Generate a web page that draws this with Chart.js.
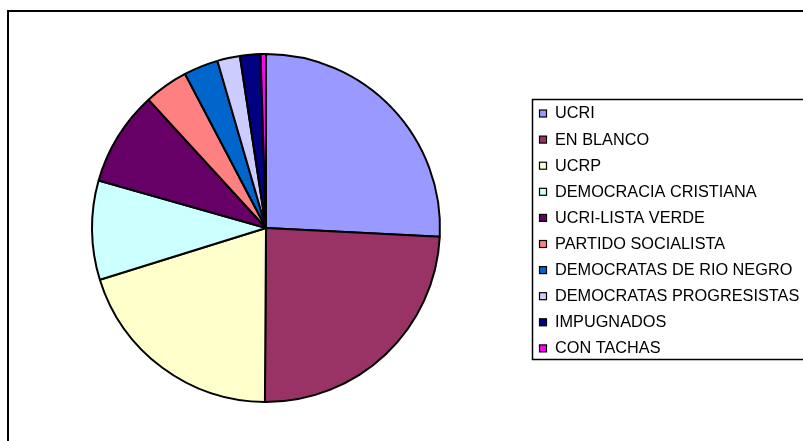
<!DOCTYPE html>
<html>
<head>
<meta charset="utf-8">
<script src="https://cdn.jsdelivr.net/npm/chart.js@4/dist/chart.umd.min.js"></script>
<style>
  html, body { margin: 0; padding: 0; background: #fff; }
  canvas { display: block; }
</style>
</head>
<body>
<canvas id="pieChart" width="803" height="441"></canvas>
<script>
// datos (porcentaje de votos)
const partidos = ['UCRI', 'EN BLANCO', 'UCRP', 'DEMOCRACIA CRISTIANA', 'UCRI-LISTA VERDE',
  'PARTIDO SOCIALISTA', 'DEMOCRATAS DE RIO NEGRO', 'DEMOCRATAS PROGRESISTAS', 'IMPUGNADOS', 'CON TACHAS'];
const votos = [25.8, 24.3, 20.1, 9.2, 8.8, 4.1, 3.2, 2.1, 1.9, 0.5];
const colores = ['#9999FF', '#993366', '#FFFFCC', '#CCFFFF', '#660066',
  '#FF8080', '#0066CC', '#CCCCFF', '#000080', '#FF00FF'];

// marco exterior + leyenda con recuadro (estilo Excel)
const marcoLeyenda = {
  id: 'marcoLeyenda',
  afterDraw: (chart) => {
    const ctx = chart.ctx;
    ctx.save();
    ctx.strokeStyle = '#000';
    ctx.lineWidth = 2;
    ctx.strokeRect(8, 11, 820, 460);

    ctx.lineWidth = 1.5;
    ctx.strokeRect(532.5, 99.5, 300, 260);

    ctx.font = '16.3px "Liberation Sans", Arial, sans-serif';
    ctx.textBaseline = 'middle';
    chart.data.labels.forEach((lab, i) => {
      const y = 113.5 + i * 26.1;
      ctx.fillStyle = colores[i];
      ctx.fillRect(539.5, y - 3.5, 7, 7);
      ctx.lineWidth = 1.2;
      ctx.strokeStyle = '#000';
      ctx.strokeRect(539.5, y - 3.5, 7, 7);
      ctx.fillStyle = '#000';
      ctx.fillText(lab, 555, y + 0.5);
    });
    ctx.restore();
  }
};

new Chart(document.getElementById('pieChart'), {
  type: 'pie',
  data: {
    labels: partidos,
    datasets: [{
      data: votos,
      backgroundColor: colores,
      borderColor: '#000',
      borderWidth: 2
    }]
  },
  options: {
    responsive: false,
    animation: false,
    layout: {
      padding: { top: 53, bottom: 38, left: 91, right: 362 }
    },
    plugins: {
      legend: { display: false },
      tooltip: { enabled: false }
    }
  },
  plugins: [marcoLeyenda]
});
</script>
</body>
</html>
